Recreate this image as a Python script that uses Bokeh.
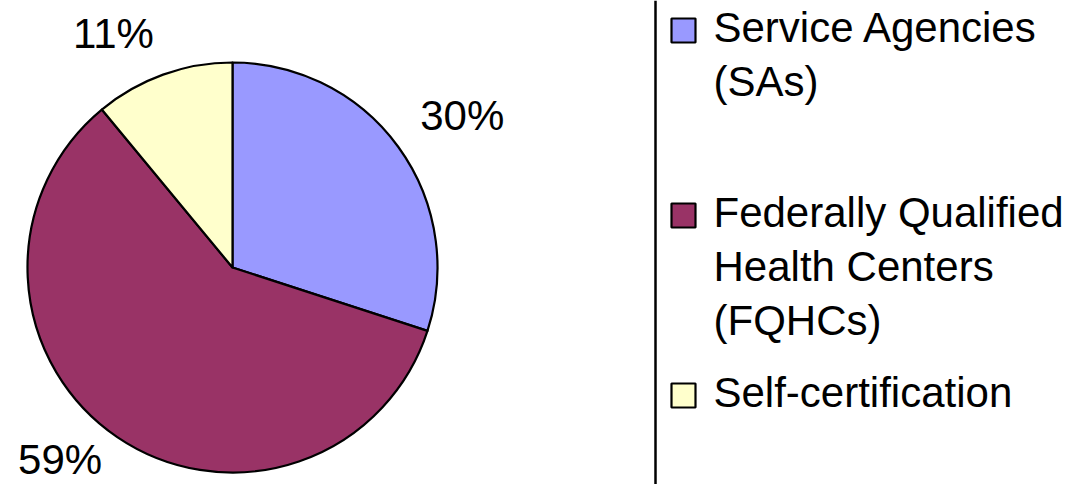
import numpy as np
from bokeh.plotting import figure
from bokeh.models import Range1d, Span
from bokeh.core.properties import value
from bokeh.embed import file_html
from bokeh.resources import INLINE

# ---- data ----
categories = ["Service Agencies (SAs)",
              "Federally Qualified Health Centers (FQHCs)",
              "Self-certification"]
legend_lines = [["Service Agencies", "(SAs)"],
                ["Federally Qualified", "Health Centers", "(FQHCs)"],
                ["Self-certification"]]
shares = [30, 59, 11]
pct_labels = ["30%", "59%", "11%"]
colors = ["#9999FF", "#993366", "#FFFFCC"]

# ---- layout ----
W, H = 1068, 484
FONT = value("Liberation Sans")
FS = "42px"
CAP_OFF = 9      # px from 'top' anchor to cap top at 42px
BASE_OFF = 39    # px from 'top' anchor to baseline at 42px
BOX_H = 48       # full text box height at 42px


def sy(y):
    # screen y (from top) -> data y (grows upward)
    return 500 - y


p = figure(width=W, height=H, x_range=Range1d(0, W),
           y_range=Range1d(500 - H, 500), output_backend="svg",
           toolbar_location=None, min_border=0)
p.axis.visible = False
p.grid.visible = False
p.outline_line_color = None
p.background_fill_color = "white"
p.border_fill_color = "white"

cx_s, cy_s, R = 232, 267, 205
frac = np.array(shares, dtype=float) / sum(shares)
cum = np.concatenate([[0.0], np.cumsum(frac)])
start = np.pi / 2 - 2 * np.pi * cum[:-1]
end = np.pi / 2 - 2 * np.pi * cum[1:]

p.wedge(x=cx_s, y=sy(cy_s), radius=R, start_angle=start, end_angle=end,
        direction="clock", fill_color=colors, line_color="black",
        line_width=2.2, line_join="round")

# percentage labels outside the pie (nearest text corner sits on the ray)
LR = 232
for s, e, lab in zip(start, end, pct_labels):
    m = (s + e) / 2
    px = cx_s + LR * np.cos(m)
    py = cy_s - LR * np.sin(m)          # screen coords
    align = "left" if np.cos(m) > 0 else "right"
    if np.sin(m) > 0:
        top = py - BASE_OFF
    else:
        top = py - CAP_OFF
    top = min(top, H - 1 - BOX_H)        # keep whole text box inside canvas
    p.text(x=[px], y=[sy(top)], text=[lab], text_font=FONT,
           text_font_size=FS, text_color="black", text_align=align,
           text_baseline="top")

# separator line
p.add_layout(Span(location=655, dimension="height", line_color="black",
                  line_width=2.5))

# legend
first_baselines = [42, 227, 407]
LINE_H = 54
for lines, col, b0 in zip(legend_lines, colors, first_baselines):
    p.rect(x=[683], y=[sy(b0 - 12)], width=24, height=24, fill_color=col,
           line_color="black", line_width=2.2)
    for k, t in enumerate(lines):
        p.text(x=[713], y=[sy(b0 + k * LINE_H - BASE_OFF)], text=[t],
               text_font=FONT, text_font_size=FS, text_color="black",
               text_align="left", text_baseline="top")

open("out.html", "w").write(file_html(p, INLINE))
